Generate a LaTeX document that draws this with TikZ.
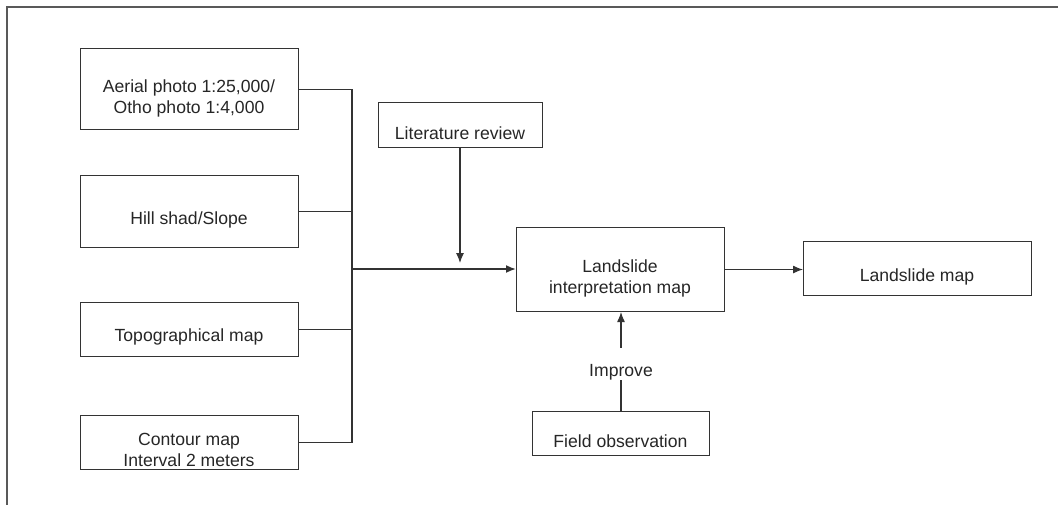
\documentclass[tikz,border=0pt]{standalone}
\usepackage{fontspec}
\setmainfont{Liberation Sans}
\usetikzlibrary{arrows.meta}
\begin{document}
\begin{tikzpicture}[x=0.75pt,y=-0.75pt,
  box/.style={draw=black!80, line width=0.8pt, rectangle, inner sep=0pt, anchor=north west},
  txt/.style={text=black!85, align=center, inner sep=0pt,
    font=\fontsize{13.2}{15.75}\selectfont},
  link/.style={draw=black!80, line width=0.8pt},
  tip/.style={-{Latex[length=7.5pt,width=6pt]}}]
\useasboundingbox (0,0) rectangle (1058,504);
% outer frame, running off the right and bottom edges
\draw[draw=black!65, line width=1.5pt] (7,520) -- (7,7) -- (1080,7);

% input boxes
\node[box, minimum width=163.5pt, minimum height=60.75pt] (aerial) at (80,48) {};
\node[box, minimum width=163.5pt, minimum height=54pt] (hill) at (80,175) {};
\node[box, minimum width=163.5pt, minimum height=40.5pt] (topo) at (80,302) {};
\node[box, minimum width=163.5pt, minimum height=40.5pt] (contour) at (80,415) {};
\node[txt] (aerialtxt) at (189,98) {Aerial photo 1:25,000/\\Otho photo 1:4,000};
\node[txt] (hilltxt) at (189,220) {Hill shad/Slope};
\node[txt] (topotxt) at (189,337) {Topographical map};
\node[txt] (contourtxt) at (189,450) {Contour map\\Interval 2 meters};

% review, interpretation, result and field boxes
\node[box, minimum width=123pt, minimum height=33.75pt] (lit) at (378,102) {};
\node[txt] (littxt) at (460,133) {Literature review};
\node[box, minimum width=156pt, minimum height=63pt] (interp) at (516,227) {};
\node[txt] (interptxt) at (620,278) {Landslide\\interpretation map};
\node[box, minimum width=171pt, minimum height=40.5pt] (lmap) at (803,241) {};
\node[txt] (lmaptxt) at (917,277) {Landslide map};
\node[box, minimum width=132.75pt, minimum height=33pt] (field) at (532,411) {};
\node[txt] (fieldtxt) at (620.5,441) {Field observation};
\node[txt] (improve) at (621,372) {Improve};

% collecting trunk
\coordinate (j) at (352,269);
\draw[link] (aerial.east) -- (aerial.east -| j);
\draw[link] (hill.east) -- (hill.east -| j);
\draw[link] (topo.east) -- (topo.east -| j);
\draw[link] (contour.east) -- (contour.east -| j);
\draw[link] (aerial.east -| j) -- (contour.east -| j);
\draw[link, tip, line width=1.3pt] (j) -- (j -| interp.west);

% review feeds in from above
\draw[link, tip, shorten >=4.5pt] (lit.south -| littxt) -- (littxt |- j);

% interpretation to result
\draw[link, tip] (interp.east) -- (interp.east -| lmap.west);

% field observation improves the interpretation
\draw[link] (field.north -| improve) -- (improve.south);
\draw[link, tip] ([yshift=12pt]improve.north) -- (improve |- interp.south);
\end{tikzpicture}
\end{document}
